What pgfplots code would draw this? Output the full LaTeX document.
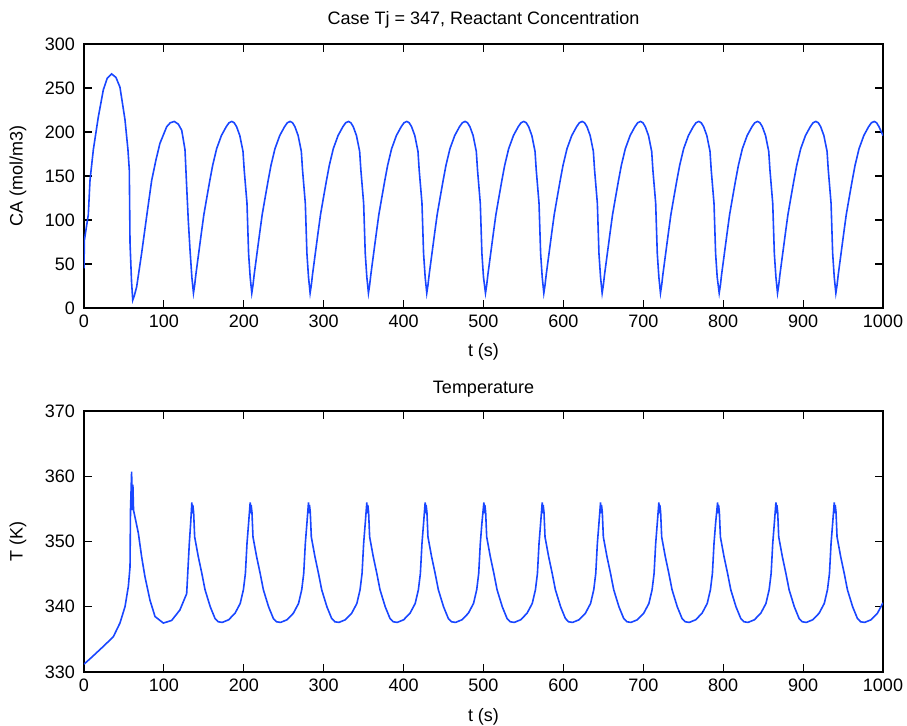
\documentclass[border=0pt]{standalone}
\usepackage{pgfplots}
\pgfplotsset{compat=1.18}
\usepackage{fontspec}
\setmainfont{Liberation Sans}
\definecolor{mblue}{RGB}{25,70,255}
\pgfplotsset{
  mstyle/.style={
    scale only axis, width=399.5pt,
    xmin=0, xmax=1000, xtick={0,100,...,1000},
    tick align=inside, major tick length=4pt,
    axis line style={line width=0.6pt}, every tick/.style={black, line width=0.6pt},
    /pgf/number format/assume math mode=true,
    /pgf/number format/1000 sep={},
    ticklabel style={font=\fontsize{9}{10.8}\selectfont},
    yticklabel style={xshift=-1pt},
    label style={font=\fontsize{9}{10.8}\selectfont},
    every axis title/.style={font=\fontsize{9}{10.8}\selectfont},
  }
}
\begin{document}
\begin{tikzpicture}
\useasboundingbox (-42pt,-26.5pt) rectangle (411.5pt,336pt);
% top axis
\begin{axis}[mstyle, at={(0,182pt)}, anchor=south west, height=132pt,
  ymin=0, ymax=300, ytick={0,50,...,300},
  title={Case Tj = 347, Reactant Concentration},
  title style={at={(axis description cs:0.5,1.091)}, anchor=center},
  xlabel={t (s)}, xlabel style={at={(axis description cs:0.5,-0.1667)}, anchor=center},
  ylabel={CA (mol/m3)}, ylabel style={at={(axis description cs:-0.0826,0.5)}, anchor=center},
]
\addplot[mblue, line width=0.8pt] coordinates {
(0,45) (0.5,77) (3,92) (5.4,106) (7.5,145) (11.7,180) (17.9,217) (24.2,248) (29,261) (34.6,266) (40,262) (45,251) (51.3,214) (55,180) (56.7,157) (57.6,74) (59.5,30) (61,9) (63,14) (65.9,24) (72.1,62) (78.4,104) (84.7,145) (90,168) (95,187) (103.5,206) (108,210.5) (113,212) (118,209) (122.3,202) (126.4,180) (128.5,138) (130.5,100) (132.7,66) (135,35)
(137,17) (138.5,26) (140,38) (143.5,62) (147,86) (150,106) (154,127) (157.5,145) (161,162) (166,181) (172,196) (178,206) (181.5,210.5) (185,212) (188,210.5) (191,206) (195,196) (199,178) (200.5,157) (204,119) (206,62) (208,35)
(210,17) (211.5,26) (213,38) (216.5,62) (220,86) (223,106) (227,127) (230.5,145) (234,162) (239,181) (245,196) (251,206) (254.5,210.5) (258,212) (261,210.5) (264,206) (268,196) (272,178) (273.5,157) (277,119) (279,62) (281,35)
(283,17) (284.5,26) (286,38) (289.5,62) (293,86) (296,106) (300,127) (303.5,145) (307,162) (312,181) (318,196) (324,206) (327.5,210.5) (331,212) (334,210.5) (337,206) (341,196) (345,178) (346.5,157) (350,119) (352,62) (354,35)
(356,17) (357.5,26) (359,38) (362.5,62) (366,86) (369,106) (373,127) (376.5,145) (380,162) (385,181) (391,196) (397,206) (400.5,210.5) (404,212) (407,210.5) (410,206) (414,196) (418,178) (419.5,157) (423,119) (425,62) (427,35)
(429,17) (430.5,26) (432,38) (435.5,62) (439,86) (442,106) (446,127) (449.5,145) (453,162) (458,181) (464,196) (470,206) (473.5,210.5) (477,212) (480,210.5) (483,206) (487,196) (491,178) (492.5,157) (496,119) (498,62) (500,35)
(502.5,17) (504,26) (505.5,38) (509,62) (512.5,86) (515.5,106) (519.5,127) (523,145) (526.5,162) (531.5,181) (537.5,196) (543.5,206) (547,210.5) (550.5,212) (553.5,210.5) (556.5,206) (560.5,196) (564.5,178) (566,157) (569.5,119) (571.5,62) (573.5,35)
(575.5,17) (577,26) (578.5,38) (582,62) (585.5,86) (588.5,106) (592.5,127) (596,145) (599.5,162) (604.5,181) (610.5,196) (616.5,206) (620,210.5) (623.5,212) (626.5,210.5) (629.5,206) (633.5,196) (637.5,178) (639,157) (642.5,119) (644.5,62) (646.5,35)
(648.5,17) (650,26) (651.5,38) (655,62) (658.5,86) (661.5,106) (665.5,127) (669,145) (672.5,162) (677.5,181) (683.5,196) (689.5,206) (693,210.5) (696.5,212) (699.5,210.5) (702.5,206) (706.5,196) (710.5,178) (712,157) (715.5,119) (717.5,62) (719.5,35)
(721.5,17) (723,26) (724.5,38) (728,62) (731.5,86) (734.5,106) (738.5,127) (742,145) (745.5,162) (750.5,181) (756.5,196) (762.5,206) (766,210.5) (769.5,212) (772.5,210.5) (775.5,206) (779.5,196) (783.5,178) (785,157) (788.5,119) (790.5,62) (792.5,35)
(795,17) (796.5,26) (798,38) (801.5,62) (805,86) (808,106) (812,127) (815.5,145) (819,162) (824,181) (830,196) (836,206) (839.5,210.5) (843,212) (846,210.5) (849,206) (853,196) (857,178) (858.5,157) (862,119) (864,62) (866,35)
(868,17) (869.5,26) (871,38) (874.5,62) (878,86) (881,106) (885,127) (888.5,145) (892,162) (897,181) (903,196) (909,206) (912.5,210.5) (916,212) (919,210.5) (922,206) (926,196) (930,178) (931.5,157) (935,119) (937,62) (939,35)
(941,17) (942.5,26) (944,38) (947.5,62) (951,86) (954,106) (958,127) (961.5,145) (965,162) (970,181) (976,196) (982,206) (985.5,210.5) (989,212) (992,210.5) (995,206) (1000,196)
};
\end{axis}
% bottom axis
\begin{axis}[mstyle, at={(0,0)}, anchor=south west, height=130.5pt,
  ymin=330, ymax=370, ytick={330,340,...,370},
  title={Temperature},
  title style={at={(axis description cs:0.5,1.085)}, anchor=center},
  xlabel={t (s)}, xlabel style={at={(axis description cs:0.5,-0.172)}, anchor=center},
  ylabel={T (K)}, ylabel style={at={(axis description cs:-0.0826,0.5)}, anchor=center},
]
\addplot[mblue, line width=0.8pt] coordinates {
(0,331.2) (10,332.3) (24,333.9) (36.7,335.4) (45,337.5) (51.3,340) (55.5,343.1) (57.6,346.1) (58.2,354.8) (59.6,360.7) (60.4,354.8) (61.2,358.7) (62,354.8) (68,351.3) (72.1,347.7) (76.3,344.6) (82.6,341) (88.9,338.5) (99.3,337.5) (109.7,337.9) (120,339.5) (128.5,342) (131.8,349.7) (133.5,352.8)
(135,356) (135.6,354.3) (136.2,355.6) (137.2,354.5) (138.5,350.7) (143,347.7) (147.5,345.1) (151.5,342.6) (158,340) (164,338.2) (168,337.7) (173,337.6) (181,338) (189,339) (195.5,340.5) (199.5,342.6) (202,345.1) (204,349.7) (206,352.8)
(208,356) (208.6,354.3) (209.2,355.6) (210.2,354.5) (211.5,350.7) (216,347.7) (220.5,345.1) (224.5,342.6) (231,340) (237,338.2) (241,337.7) (246,337.6) (254,338) (262,339) (268.5,340.5) (272.5,342.6) (275,345.1) (277,349.7) (279,352.8)
(281,356) (281.6,354.3) (282.2,355.6) (283.2,354.5) (284.5,350.7) (289,347.7) (293.5,345.1) (297.5,342.6) (304,340) (310,338.2) (314,337.7) (319,337.6) (327,338) (335,339) (341.5,340.5) (345.5,342.6) (348,345.1) (350,349.7) (352,352.8)
(354,356) (354.6,354.3) (355.2,355.6) (356.2,354.5) (357.5,350.7) (362,347.7) (366.5,345.1) (370.5,342.6) (377,340) (383,338.2) (387,337.7) (392,337.6) (400,338) (408,339) (414.5,340.5) (418.5,342.6) (421,345.1) (423,349.7) (425,352.8)
(427,356) (427.6,354.3) (428.2,355.6) (429.2,354.5) (430.5,350.7) (435,347.7) (439.5,345.1) (443.5,342.6) (450,340) (456,338.2) (460,337.7) (465,337.6) (473,338) (481,339) (487.5,340.5) (491.5,342.6) (494,345.1) (496,349.7) (498,352.8)
(500.5,356) (501.1,354.3) (501.7,355.6) (502.7,354.5) (504,350.7) (508.5,347.7) (513,345.1) (517,342.6) (523.5,340) (529.5,338.2) (533.5,337.7) (538.5,337.6) (546.5,338) (554.5,339) (561,340.5) (565,342.6) (567.5,345.1) (569.5,349.7) (571.5,352.8)
(573.5,356) (574.1,354.3) (574.7,355.6) (575.7,354.5) (577,350.7) (581.5,347.7) (586,345.1) (590,342.6) (596.5,340) (602.5,338.2) (606.5,337.7) (611.5,337.6) (619.5,338) (627.5,339) (634,340.5) (638,342.6) (640.5,345.1) (642.5,349.7) (644.5,352.8)
(646.5,356) (647.1,354.3) (647.7,355.6) (648.7,354.5) (650,350.7) (654.5,347.7) (659,345.1) (663,342.6) (669.5,340) (675.5,338.2) (679.5,337.7) (684.5,337.6) (692.5,338) (700.5,339) (707,340.5) (711,342.6) (713.5,345.1) (715.5,349.7) (717.5,352.8)
(719.5,356) (720.1,354.3) (720.7,355.6) (721.7,354.5) (723,350.7) (727.5,347.7) (732,345.1) (736,342.6) (742.5,340) (748.5,338.2) (752.5,337.7) (757.5,337.6) (765.5,338) (773.5,339) (780,340.5) (784,342.6) (786.5,345.1) (788.5,349.7) (790.5,352.8)
(793,356) (793.6,354.3) (794.2,355.6) (795.2,354.5) (796.5,350.7) (801,347.7) (805.5,345.1) (809.5,342.6) (816,340) (822,338.2) (826,337.7) (831,337.6) (839,338) (847,339) (853.5,340.5) (857.5,342.6) (860,345.1) (862,349.7) (864,352.8)
(866,356) (866.6,354.3) (867.2,355.6) (868.2,354.5) (869.5,350.7) (874,347.7) (878.5,345.1) (882.5,342.6) (889,340) (895,338.2) (899,337.7) (904,337.6) (912,338) (920,339) (926.5,340.5) (930.5,342.6) (933,345.1) (935,349.7) (937,352.8)
(939,356) (939.6,354.3) (940.2,355.6) (941.2,354.5) (942.5,350.7) (947,347.7) (951.5,345.1) (955.5,342.6) (962,340) (968,338.2) (972,337.7) (977,337.6) (985,338) (993,339) (1000,340.6)
};
\end{axis}
\end{tikzpicture}
\end{document}
